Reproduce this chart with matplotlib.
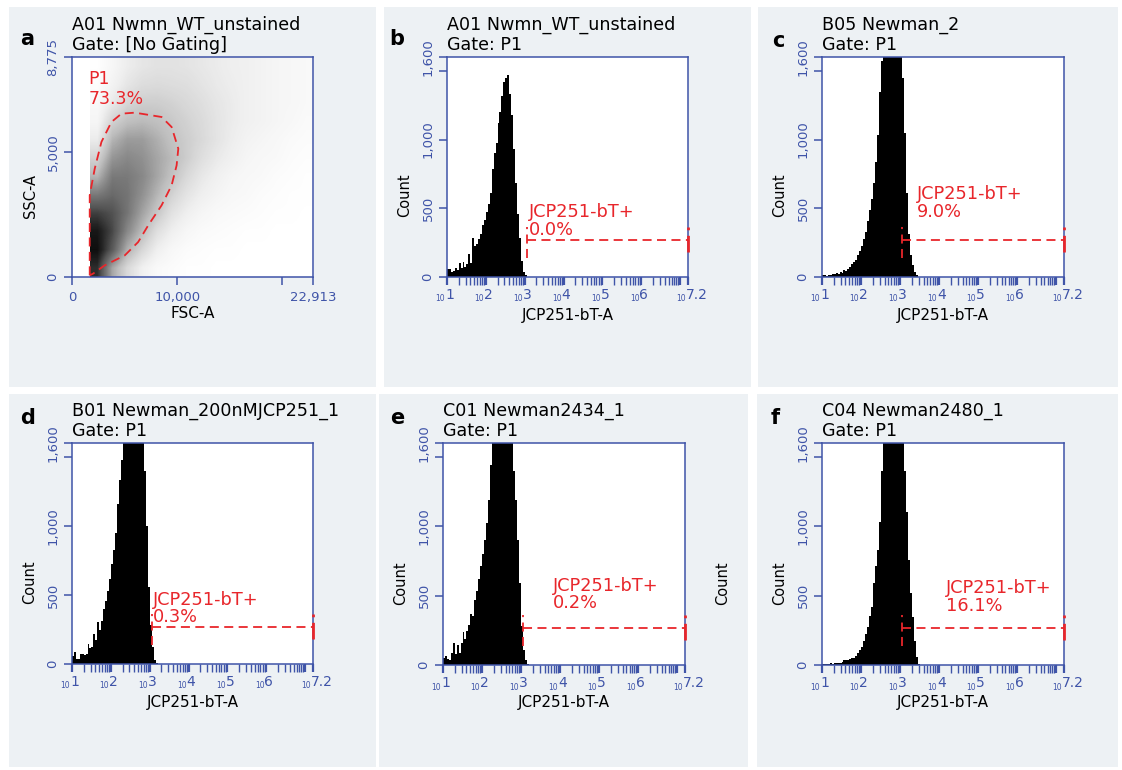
import numpy as np
import matplotlib as mpl; mpl.use("Agg")
import matplotlib.pyplot as plt
from matplotlib.patches import Rectangle

W, H = 1122, 770
BLUE = "#3f54a8"; RED = "#e8262b"; PANEL = "#edf1f4"
mpl.rcParams.update({"font.family": "DejaVu Sans"})

# ---- data ----
FSC_MAX, SSC_MAX = 22913, 8775
FSC_EDGE = 1700                     # left cut-off of the events
# grey level of the FSC/SSC dot cloud, rows = SSC from bottom, cols = FSC from FSC_EDGE
DENSITY = [
    [0.85, 0.45, 0.25, 0.12, 0.05, 0.03, 0.01, 0.01, 0, 0, 0, 0, 0, 0, 0],
    [0.95, 0.72, 0.42, 0.26, 0.13, 0.06, 0.03, 0.02, 0.01, 0.01, 0, 0, 0, 0, 0],
    [0.92, 0.78, 0.55, 0.38, 0.22, 0.13, 0.07, 0.04, 0.03, 0.02, 0.01, 0.01, 0, 0, 0],
    [0.80, 0.75, 0.62, 0.46, 0.33, 0.20, 0.13, 0.08, 0.05, 0.04, 0.03, 0.02, 0.01, 0.01, 0],
    [0.60, 0.66, 0.62, 0.52, 0.40, 0.28, 0.19, 0.13, 0.09, 0.06, 0.05, 0.03, 0.02, 0.01, 0.01],
    [0.40, 0.60, 0.60, 0.55, 0.45, 0.35, 0.25, 0.17, 0.12, 0.08, 0.06, 0.05, 0.03, 0.02, 0.01],
    [0.28, 0.50, 0.55, 0.52, 0.45, 0.38, 0.30, 0.22, 0.16, 0.12, 0.08, 0.06, 0.05, 0.03, 0.02],
    [0.15, 0.40, 0.48, 0.48, 0.42, 0.35, 0.30, 0.25, 0.19, 0.14, 0.10, 0.08, 0.06, 0.04, 0.03],
    [0.08, 0.28, 0.36, 0.38, 0.36, 0.32, 0.28, 0.24, 0.19, 0.15, 0.12, 0.10, 0.08, 0.06, 0.04],
    [0.05, 0.16, 0.26, 0.30, 0.30, 0.28, 0.25, 0.22, 0.18, 0.15, 0.12, 0.10, 0.08, 0.07, 0.05],
    [0.02, 0.10, 0.18, 0.23, 0.24, 0.23, 0.22, 0.19, 0.16, 0.14, 0.12, 0.10, 0.08, 0.07, 0.05],
    [0.01, 0.07, 0.14, 0.18, 0.20, 0.20, 0.19, 0.17, 0.15, 0.13, 0.12, 0.10, 0.08, 0.07, 0.05],
]
P1_FSC = [1684, 1684, 2161, 2797, 3750, 4703, 5975, 8517, 9470, 10106, 9947, 9470,
          8517, 7246, 6292, 5021, 3114, 2002, 1684]
P1_SSC = [66, 3257, 4321, 5385, 6182, 6515, 6555, 6382, 5983, 5119, 4454, 3656,
          2859, 2061, 1396, 864, 465, 133, 66]

BIN0, BINW = 1.0, 0.05              # log10 decades
HIST_B = [60, 57, 38, 43, 66, 48, 104, 66, 109, 76, 95, 166, 104, 285, 228, 238, 275, 313,
          380, 418, 475, 532, 608, 788, 902, 978, 1121, 1197, 1320, 1415, 1444, 1472, 1330,
          1178, 931, 684, 456, 285, 114, 38, 11, 3]
HIST_C = [11, 14, 10, 17, 13, 24, 21, 28, 24, 36, 28, 48, 46, 57, 76, 95, 109, 124, 157, 190,
          228, 276, 328, 408, 485, 570, 684, 836, 1036, 1349, 1568, 1850, 2100, 2300, 2400,
          2450, 2400, 2300, 2100, 1900, 1750, 1450, 1045, 608, 314, 162, 86, 38, 11]
HIST_D = [57, 86, 38, 33, 71, 76, 67, 76, 143, 114, 124, 219, 171, 304, 247, 314, 399, 456,
          532, 618, 722, 827, 950, 1159, 1330, 1480, 1700, 1900, 2100, 2300, 2400, 2450, 2400,
          2300, 2100, 1900, 1700, 1400, 1000, 560, 280, 120, 30, 8]
HIST_E = [48, 67, 43, 38, 90, 162, 76, 143, 86, 162, 238, 190, 247, 285, 371, 352, 466, 532,
          618, 713, 798, 903, 1026, 1188, 1440, 1700, 1900, 2100, 2300, 2400, 2450, 2400, 2300,
          2100, 1950, 1750, 1400, 1190, 900, 590, 280, 110, 35, 8]
HIST_F = [8, 10, 8, 10, 11, 10, 11, 14, 17, 15, 19, 33, 36, 38, 43, 48, 53, 67, 86, 105, 133,
          176, 223, 276, 352, 420, 590, 710, 830, 1030, 1400, 1700, 1850, 2050, 2200, 2300, 2350,
          2350, 2300, 2200, 2000, 1750, 1400, 1100, 760, 520, 345, 175, 55, 10]
PCT = {"b": "0.0%", "c": "9.0%", "d": "0.3%", "e": "0.2%", "f": "16.1%"}
GATE_LO, GATE_Y = 3.05, 270

# ---- layout (pixels) ----
fig = plt.figure(figsize=(W/100, H/100), dpi=100)
fig.patch.set_facecolor("white")

def ftext(x, y, s, **kw):
    return fig.text(x/W, 1-y/H, s, **kw)

for x0, y0, x1, y1 in [(9, 7, 376, 387), (384, 7, 751, 387), (758, 7, 1118, 387),
                       (9, 394, 376, 767), (379, 394, 748, 767), (757, 394, 1118, 767)]:
    fig.add_artist(Rectangle((x0/W, 1-y1/H), (x1-x0)/W, (y1-y0)/H, transform=fig.transFigure,
                             facecolor=PANEL, edgecolor="none", zorder=0))

PANELS = [  # letter, (l, t, r, b) axes px, title lines, letter px, data, gate label pos
    ("a", (72, 57, 313, 277), "A01 Nwmn_WT_unstained", "Gate: [No Gating]", (27, 39), None, None),
    ("b", (447, 57, 688, 277), "A01 Nwmn_WT_unstained", "Gate: P1", (397, 39), HIST_B, (3.11, 473, 342)),
    ("c", (822, 57, 1064, 277), "B05 Newman_2", "Gate: P1", (778, 41), HIST_C, (3.44, 604, 473)),
    ("d", (72, 443, 313, 664), "B01 Newman_200nMJCP251_1", "Gate: P1", (28, 418), HIST_D, (3.08, 463, 340)),
    ("e", (443, 443, 685, 665), "C01 Newman2434_1", "Gate: P1", (397, 418), HIST_E, (3.82, 569, 447)),
    ("f", (822, 443, 1064, 665), "C04 Newman2480_1", "Gate: P1", (775, 418), HIST_F, (4.18, 555, 425)),
]

def style(ax):
    for s in ax.spines.values():
        s.set_color(BLUE); s.set_linewidth(1.1)
    ax.tick_params(which="both", direction="out", color=BLUE, labelcolor=BLUE)
    ax.tick_params(axis="x", length=6, width=1.1, labelsize=9.5, pad=4)
    ax.tick_params(axis="y", length=6, width=1.1, labelsize=9.5, labelrotation=90, pad=3)
    for lab in ax.get_yticklabels():
        lab.set_va("center")

for letter, (l, t, r, b), t1, t2, lpos, hist, glab in PANELS:
    ax = fig.add_axes([l/W, 1-b/H, (r-l)/W, (b-t)/H])
    ax.set_facecolor("white")
    ftext(*lpos, letter, fontsize=15, fontweight="bold", ha="center", va="center")
    ftext(l, t-32, t1, fontsize=12.6, ha="left", va="center")
    ftext(l, t-12, t2, fontsize=12.6, ha="left", va="center")
    if hist is None:
        ax.imshow(DENSITY, extent=[FSC_EDGE, FSC_MAX, 0, SSC_MAX], origin="lower", cmap="Greys",
                  vmin=0, vmax=1, interpolation="bilinear", aspect="auto", zorder=1)
        ax.plot(P1_FSC, P1_SSC, color=RED, lw=1.3, ls=(0, (5, 3)), zorder=3)
        ax.text(0.068, 0.9, "P1", transform=ax.transAxes, color=RED, fontsize=12.5, va="center")
        ax.text(0.068, 0.81, "73.3%", transform=ax.transAxes, color=RED, fontsize=12.5, va="center")
        ax.set_xlim(0, FSC_MAX); ax.set_ylim(0, SSC_MAX)
        ax.set_xticks([0, 10000, 20000, FSC_MAX], ["0", "10,000", "", "22,913"])
        ax.set_yticks([0, 5000, SSC_MAX], ["0", "5,000", "8,775"])
        style(ax)
        ftext((l+r)/2, b+37, "FSC-A", fontsize=11, ha="center", va="center")
        ftext(l-42, t+0.63*(b-t), "SSC-A", fontsize=10.5, rotation=90, ha="center", va="center")
        continue
    edges = BIN0 + BINW*np.arange(len(hist)+1)
    ax.stairs(hist, edges, fill=True, color="black", lw=0, zorder=1)
    ax.set_xlim(1, 7.2); ax.set_ylim(0, 1600)
    ax.set_yticks([0, 500, 1000, 1500, 1600], ["0", "500", "1,000", "", "1,600"])
    ax.set_xticks(list(range(1, 8)) + [7.2], [""]*8)
    minor = [np.log10(k) + d for d in range(1, 7) for k in range(2, 10)]
    ax.set_xticks(minor, minor=True)
    style(ax)
    ax.tick_params(axis="x", which="major", width=1.6)
    ax.tick_params(axis="x", which="minor", length=6, width=1.0)
    for d, lab in zip(list(range(1, 8)) + [7.2], ["1", "2", "3", "4", "5", "6", "7", "7.2"]):
        if d == 7:
            continue
        ax.annotate("10", xy=(d, 0), xycoords=("data", "axes fraction"), xytext=(-2, -22),
                    textcoords="offset pixels", ha="right", va="center", fontsize=5.5, color=BLUE)
        ax.annotate(lab, xy=(d, 0), xycoords=("data", "axes fraction"), xytext=(-2, -18),
                    textcoords="offset pixels", ha="left", va="center", fontsize=10, color=BLUE)
    # gate
    dash = (0, (5, 3))
    ax.plot([GATE_LO, 7.2], [GATE_Y, GATE_Y], color=RED, lw=1.3, ls=dash, zorder=3, clip_on=False)
    ax.plot([GATE_LO, GATE_LO], [140, 360], color=RED, lw=1.3, ls=dash, zorder=3)
    ax.plot([7.2, 7.2], [180, 360], color=RED, lw=2.0, ls=(0, (6, 2)), zorder=3, clip_on=False)
    gx, gy1, gy2 = glab
    ax.text(gx, gy1, "JCP251-bT+", color=RED, fontsize=12.8, ha="left", va="center", zorder=4)
    ax.text(gx, gy2, PCT[letter], color=RED, fontsize=12.8, ha="left", va="center", zorder=4)
    ftext((l+r)/2, b+38, "JCP251-bT-A", fontsize=11, ha="center", va="center")
    ftext(l-42, t+0.63*(b-t), "Count", fontsize=10.5, rotation=90, ha="center", va="center")

# stray axis label between panels e and f
ftext(723, 583, "Count", fontsize=10.5, rotation=90, ha="center", va="center")

fig.savefig("out.png", dpi=100)
